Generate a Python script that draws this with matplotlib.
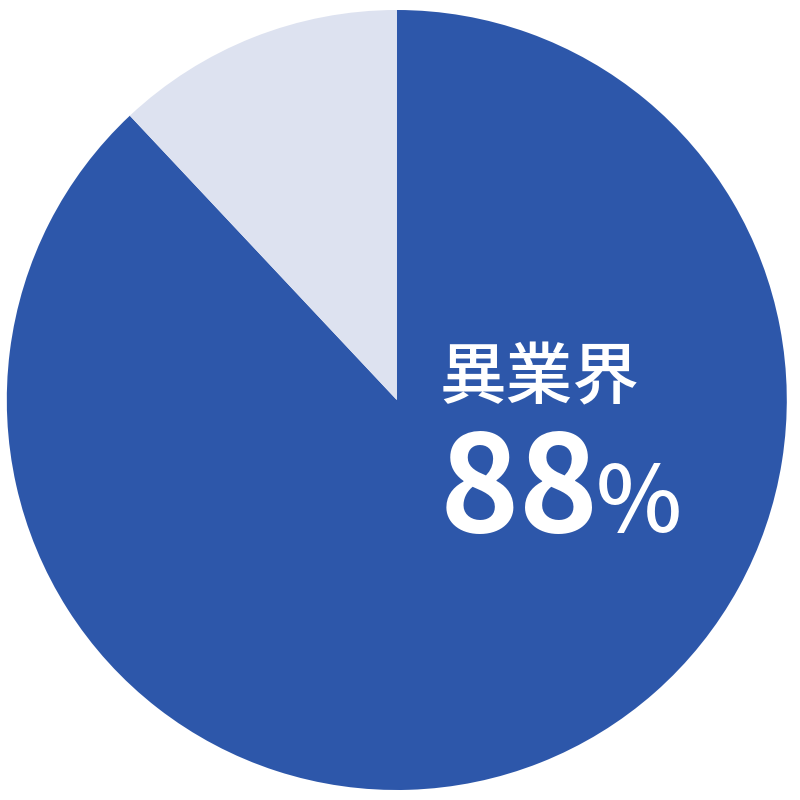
import matplotlib
matplotlib.use("Agg")
import matplotlib.pyplot as plt

# データ
labels = ["異業界", "その他"]
values = [88, 12]
colors = ["#2d57aa", "#dde2f0"]
main_label = labels[0]
main_value = values[0]

fig = plt.figure(figsize=(8, 8), dpi=100)
ax = fig.add_axes([0, 0, 1, 1])
ax.pie(values, colors=colors, startangle=90, counterclock=False,
       radius=0.975, center=(-0.008, 0.0),
       wedgeprops=dict(linewidth=0))
ax.set_xlim(-1, 1)
ax.set_ylim(-1, 1)
ax.set_aspect("equal")
ax.axis("off")

cjk = ["Noto Sans CJK JP", "DejaVu Sans"]
ax.text(0.1, 0.005, main_label, color="white", fontsize=48,
        family=cjk, fontweight="medium", ha="left", va="baseline")
ax.text(0.1, -0.33, f"{main_value}", color="white", fontsize=97,
        family=cjk, fontweight="bold", ha="left", va="baseline")
ax.text(0.49, -0.33, "%", color="white", fontsize=66,
        family=cjk, fontweight="medium", ha="left", va="baseline")

fig.savefig("out.png", dpi=100)
